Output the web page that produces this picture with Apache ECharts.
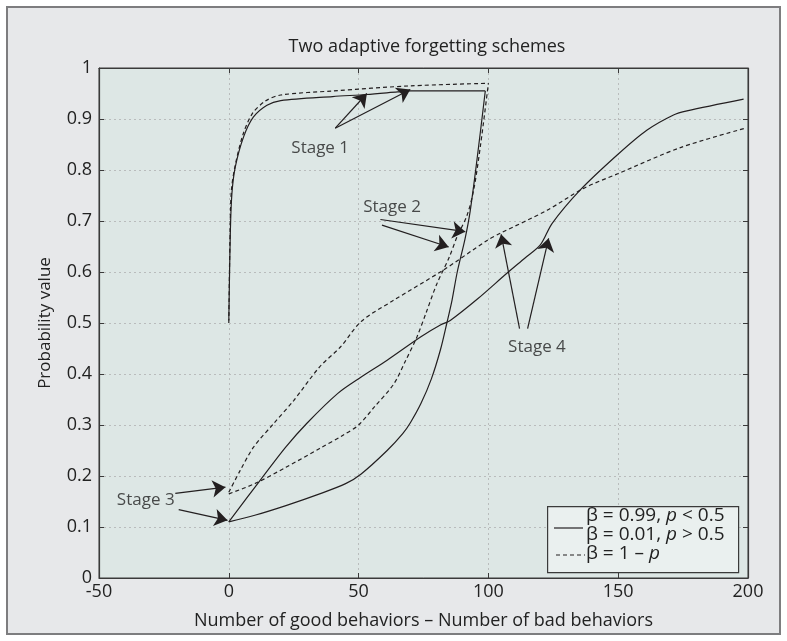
<!DOCTYPE html>
<html>
<head>
<meta charset="utf-8">
<script src="https://cdn.jsdelivr.net/npm/echarts@6/dist/echarts.min.js"></script>
<style>
  html, body { margin:0; padding:0; background:#ffffff; }
  #frame { position:absolute; left:6px; top:6px; width:771px; height:625px; border:2px solid #7d7d7f; background:#e7e8ea; }
  #chart { position:absolute; left:0; top:0; width:787px; height:641px; }
</style>
</head>
<body>
<div id="frame"></div>
<div id="chart"></div>
<script>
// ---- data ----
const xTicks = [-50, 0, 50, 100, 150, 200];
const yTicks = [0, 0.1, 0.2, 0.3, 0.4, 0.5, 0.6, 0.7, 0.8, 0.9, 1];

// solid curves (beta = 0.99 / 0.01 scheme)
const solidRise = [[0,0.505],[0.6,0.68],[1.2,0.754],[2.5,0.806],[5.7,0.865],[9.5,0.904],[14.7,0.927],[20,0.936],[40,0.944],[53,0.948],[65,0.953],[70,0.955],[98.8,0.955]];
const solidFall = [[0,0.11],[10,0.123],[22,0.142],[35,0.165],[45,0.185],[51,0.204],[61,0.25],[67,0.283],[70,0.305],[74,0.342],[78,0.39],[81.5,0.447],[84,0.5],[86,0.545],[88,0.6],[91,0.665],[93,0.72],[95.6,0.82],[98.8,0.955]];
const solidLong = [[0,0.11],[12,0.191],[22,0.257],[30,0.303],[42,0.362],[51,0.394],[61,0.427],[74,0.473],[81.5,0.496],[85.3,0.505],[96,0.548],[107,0.597],[114,0.627],[120,0.653],[124.5,0.695],[135.4,0.761],[149.5,0.829],[161,0.878],[171.3,0.908],[176.5,0.916],[198.3,0.939]];

// dashed curves (beta = 1 - p)
const dashRise = [[0,0.5],[0.5,0.68],[1,0.76],[2.5,0.81],[5.5,0.87],[9,0.91],[14,0.935],[20,0.947],[40,0.955],[70,0.965],[100,0.97]];
const dashFall = [[0,0.165],[10,0.185],[22,0.217],[35,0.254],[44,0.28],[50,0.3],[56,0.335],[63.5,0.38],[68,0.425],[72.5,0.473],[76,0.52],[80,0.575],[85,0.63],[88,0.67],[91.7,0.71],[94.3,0.76],[97,0.85],[100,0.97]];
const dashLong = [[0,0.168],[4.4,0.211],[9.6,0.257],[17.3,0.303],[25,0.348],[35,0.414],[43,0.453],[51,0.503],[63,0.543],[82.7,0.604],[99.5,0.662],[104.6,0.676],[122.6,0.721],[136.7,0.764],[150,0.793],[174,0.844],[199,0.882]];

// annotations: label positions and arrows (tail -> head), in data units
const stageLabels = [[35.2,0.842,'Stage 1'],[62.9,0.728,'Stage 2'],[-32,0.153,'Stage 3'],[118.7,0.453,'Stage 4']];
const stageArrows = [
  [[41,0.882],[53.2,0.950]], [[41,0.882],[69.9,0.958]],
  [[58.4,0.703],[91.1,0.679]], [[59,0.692],[84.7,0.649]],
  [[-20.6,0.166],[-1.3,0.178]], [[-19.3,0.134],[-0.5,0.113]],
  [[112,0.489],[104.9,0.674]], [[115.1,0.489],[123.2,0.666]]
];

const legendRows = ['β = 0.99, {i|p} < 0.5', 'β = 0.01, {i|p} > 0.5', 'β = 1 – {i|p}'];
const titleText = 'Two adaptive forgetting schemes';
const xName = 'Number of good behaviors – Number of bad behaviors';
const yName = 'Probability value';

// ---- chart ----
const FONT = 'Open Sans';
const INK = '#231f20';
const chart = echarts.init(document.getElementById('chart'), null, {renderer:'canvas'});

function curve(data, dashed) {
  return {
    type:'line', data:data, showSymbol:false, symbol:'none', smooth:0.3,
    lineStyle:{color:INK, width:1.2, type: dashed ? [4,3] : 'solid'},
    silent:true, animation:false, clip:true
  };
}

const axisCommon = {
  type:'value',
  axisLine:{show:true, onZero:false, lineStyle:{color:'#3a3a3a', width:1.2}},
  axisTick:{show:true, inside:true, length:5, lineStyle:{color:'#3a3a3a'}},
};

const legendFont = '19px "Open Sans"';
const richP = {i:{fontStyle:'italic', fontFamily:FONT, fontSize:19, fill:'#222'}};

const option = {
  animation:false,
  backgroundColor:'transparent',
  title:{text:titleText, left:422, top:33, textAlign:'center',
    textStyle:{fontFamily:FONT, fontSize:18, fontWeight:'normal', color:'#222'}},
  grid:{left:99, right:39, top:68, bottom:63, show:true, backgroundColor:'#dde7e5', borderColor:'#3a3a3a', borderWidth:1},
  xAxis:[
    Object.assign({}, axisCommon, {
      min:xTicks[0], max:xTicks[xTicks.length-1], interval:50, position:'bottom',
      name:xName, nameLocation:'middle', nameGap:34,
      nameTextStyle:{fontFamily:FONT, fontSize:18, color:'#222'},
      axisLabel:{fontFamily:FONT, fontSize:18, color:'#222', margin:5},
      splitLine:{show:true, lineStyle:{color:'#b9bcbc', type:[2,3], width:1}}
    }),
    Object.assign({}, axisCommon, {
      min:xTicks[0], max:xTicks[xTicks.length-1], interval:50, position:'top',
      axisLabel:{show:false}, splitLine:{show:false}
    })
  ],
  yAxis:[
    Object.assign({}, axisCommon, {
      min:yTicks[0], max:yTicks[yTicks.length-1], interval:0.1, position:'left',
      name:yName, nameLocation:'middle', nameGap:45, nameRotate:90,
      nameTextStyle:{fontFamily:FONT, fontSize:17, color:'#222'},
      axisLabel:{fontFamily:FONT, fontSize:18, color:'#222', margin:7},
      splitLine:{show:true, lineStyle:{color:'#b9bcbc', type:[2,3], width:1}}
    }),
    Object.assign({}, axisCommon, {
      min:yTicks[0], max:yTicks[yTicks.length-1], interval:0.1, position:'right',
      axisLabel:{show:false}, splitLine:{show:false}
    })
  ],
  series:[
    curve(solidRise,false), curve(solidFall,false), curve(solidLong,false),
    curve(dashRise,true), curve(dashFall,true), curve(dashLong,true),
    {
      type:'scatter', data:stageLabels, symbolSize:0, silent:true,
      label:{show:true, position:'inside', formatter:p=>p.data[2],
        fontFamily:FONT, fontSize:17, color:'#222'},
      markLine:{
        silent:true, symbol:['none','arrow'], symbolSize:13, precision:4,
        label:{show:false},
        lineStyle:{color:INK, width:1.2, type:'solid'},
        data: stageArrows.map(a=>[{coord:a[0]},{coord:a[1]}])
      }
    }
  ],
  graphic:[
    {type:'rect', left:547, top:506, shape:{width:191, height:66},
      style:{fill:'#eaf0ef', stroke:'#3a3a3a', lineWidth:1.2}, z:100},
    {type:'line', shape:{x1:554, y1:528, x2:583, y2:528}, style:{stroke:INK, lineWidth:1.2}, z:101},
    {type:'line', shape:{x1:556, y1:555, x2:585, y2:555}, style:{stroke:INK, lineWidth:1.2, lineDash:[4,3]}, z:101},
    {type:'text', left:586, top:506, z:101, style:{text:legendRows[0], font:legendFont, fill:'#222', rich:richP}},
    {type:'text', left:586, top:525, z:101, style:{text:legendRows[1], font:legendFont, fill:'#222', rich:richP}},
    {type:'text', left:586, top:544, z:101, style:{text:legendRows[2], font:legendFont, fill:'#222', rich:richP}}
  ]
};
chart.setOption(option);
</script>
</body>
</html>
